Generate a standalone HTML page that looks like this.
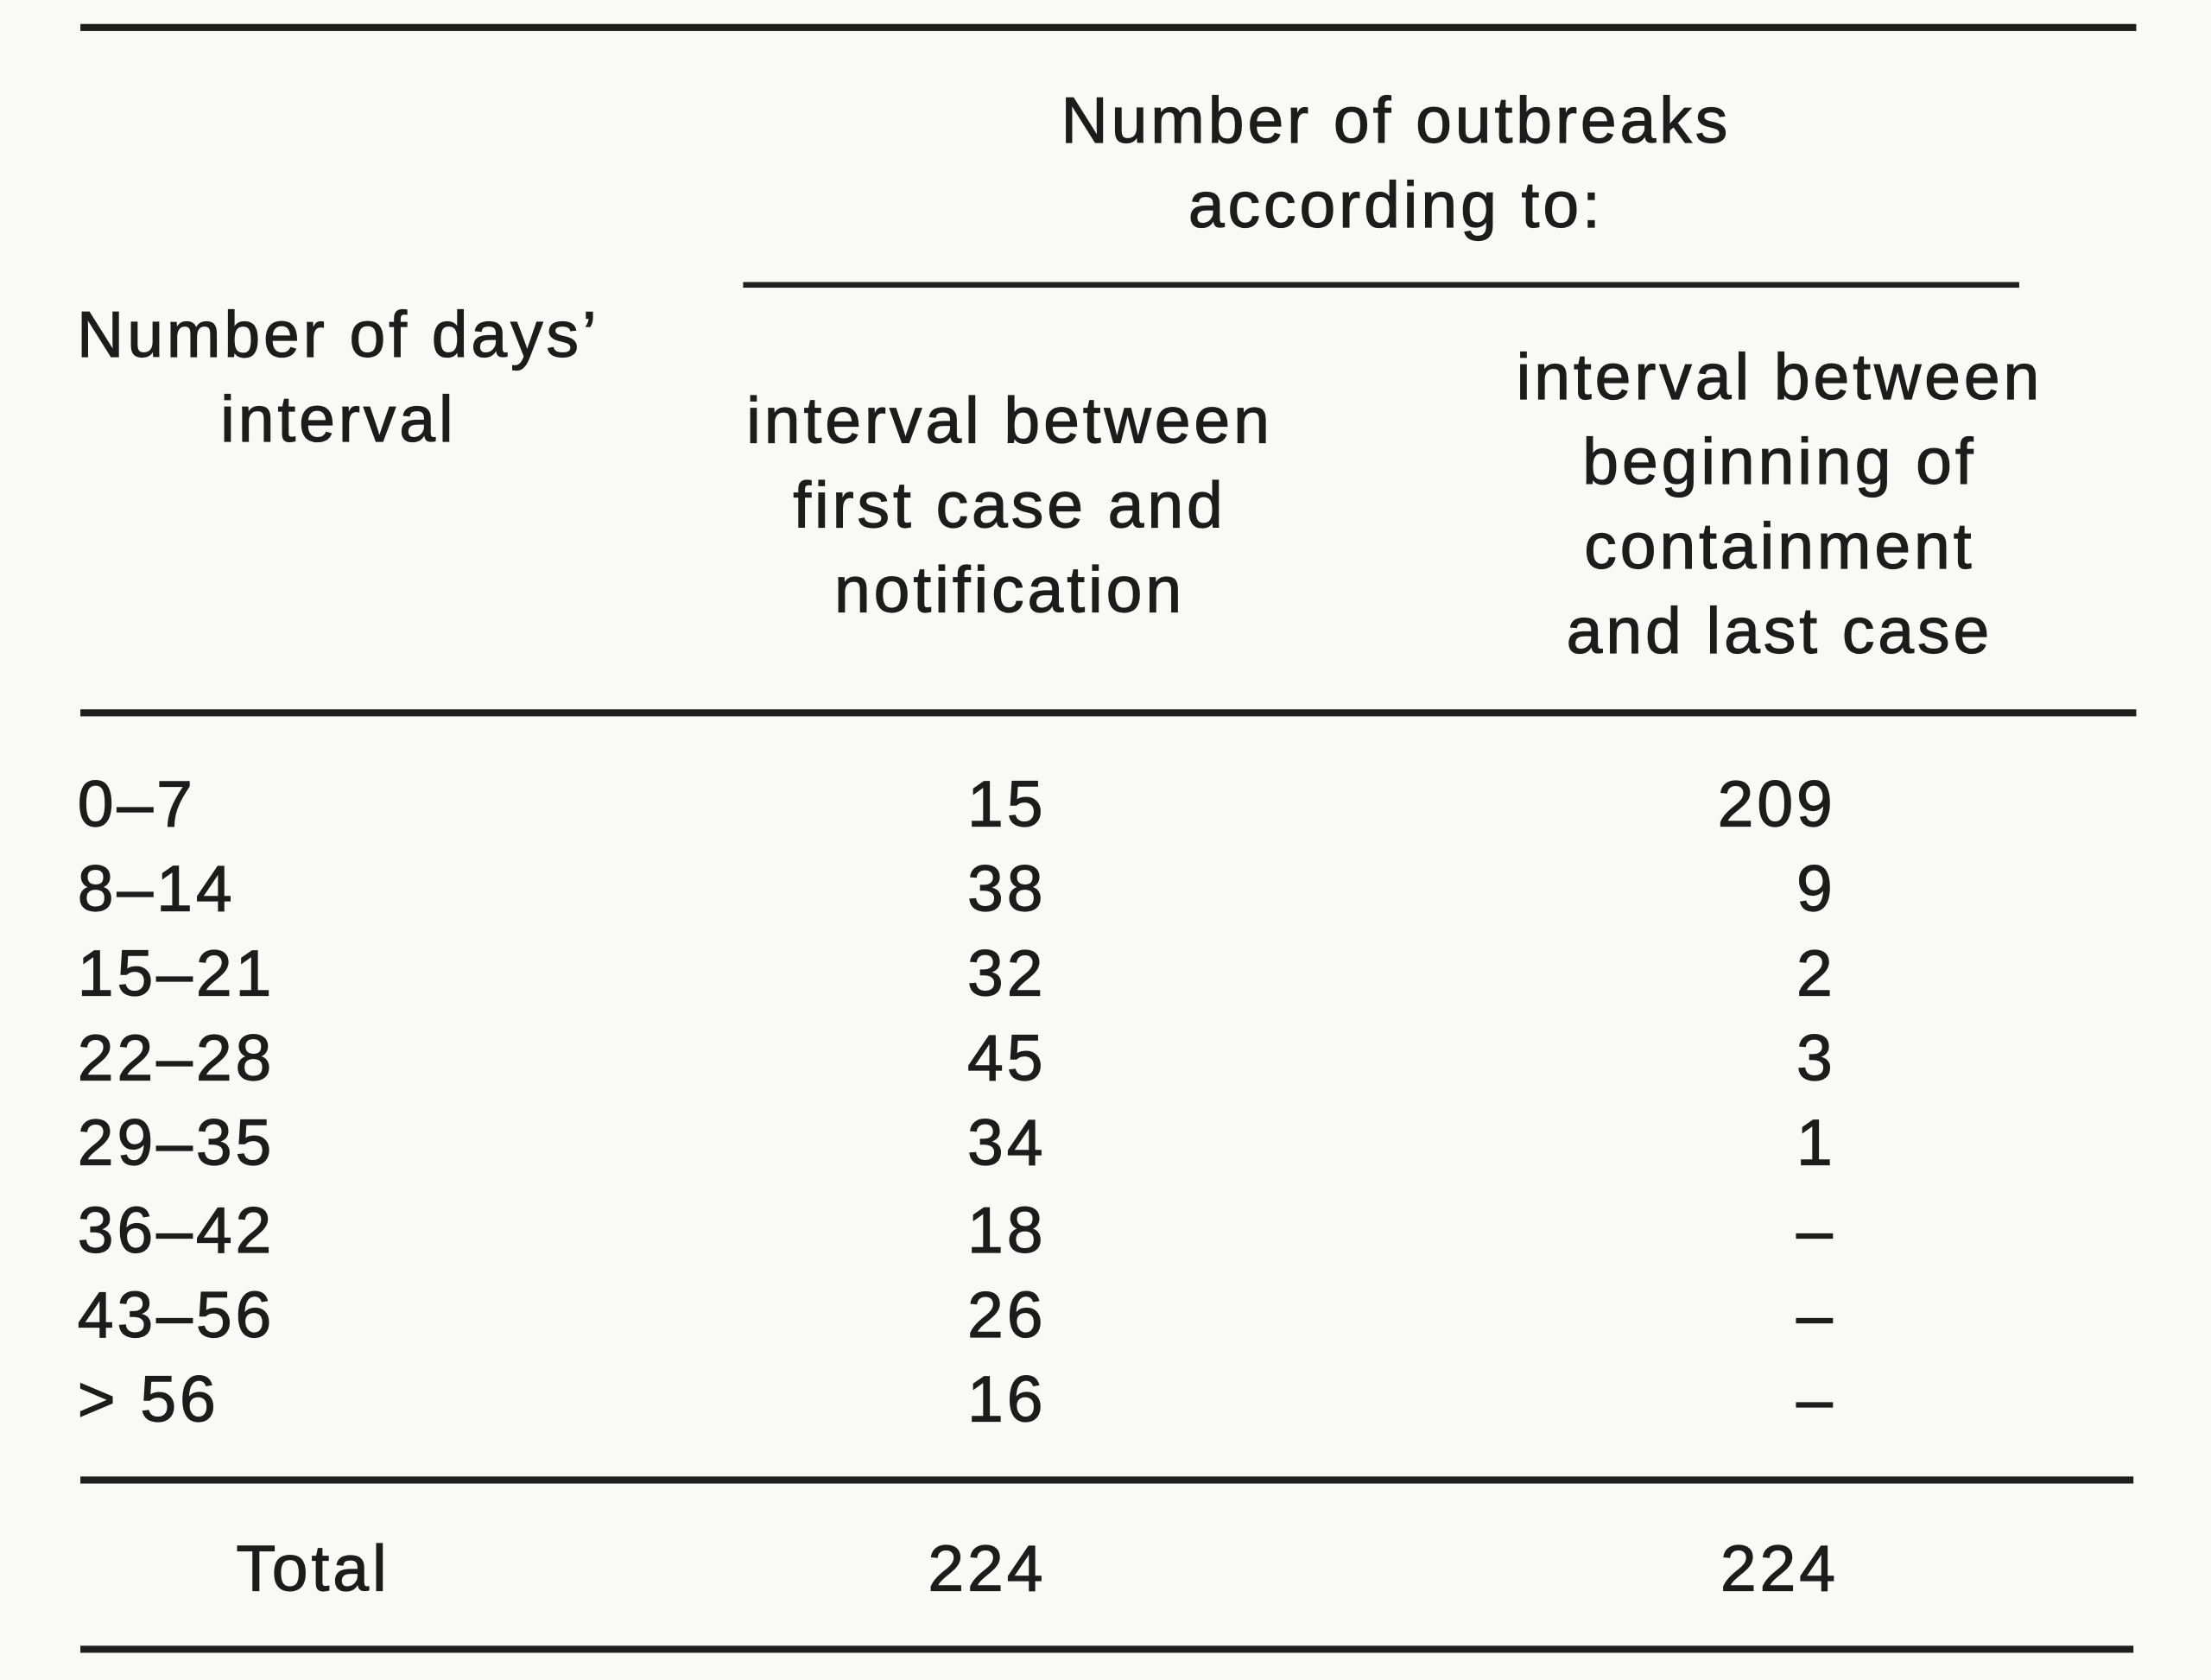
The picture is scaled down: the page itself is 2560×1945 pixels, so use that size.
<!DOCTYPE html>
<html><head><meta charset="utf-8"><style>
html,body{margin:0;padding:0;background:#f9f9f7;}
body{width:2560px;height:1945px;overflow:hidden;position:relative;}
#c{position:absolute;left:0;top:0;width:1568px;height:1191px;transform:scale(1.63265);transform-origin:0 0;font-family:"Liberation Sans",sans-serif;color:#1c1c1c;font-size:46px;letter-spacing:2.4px;-webkit-text-stroke:0.7px #1c1c1c;}
.r{position:absolute;height:5px;background:#1e1e1e;}
.t{position:absolute;height:60px;line-height:60px;white-space:nowrap;}
.cc{transform:translateX(-50%);}
.rr{transform:translateX(-100%);}
</style></head><body><div id="c">
<div class="r" style="left:57px;width:1458px;top:17px"></div>
<div class="r" style="left:527px;width:905px;top:200px;height:4px"></div>
<div class="r" style="left:57px;width:1458px;top:503px"></div>
<div class="r" style="left:57px;width:1456px;top:1047px"></div>
<div class="r" style="left:57px;width:1456px;top:1167px"></div>

<div class="t cc" style="left:990px;top:55px">Number of outbreaks</div>
<div class="t cc" style="left:990px;top:115px">according to:</div>
<div class="t cc" style="left:240px;top:207px">Number of days’</div>
<div class="t cc" style="left:240px;top:267px">interval</div>
<div class="t cc" style="left:716px;top:268px">interval between</div>
<div class="t cc" style="left:716px;top:328px">first case and</div>
<div class="t cc" style="left:716px;top:388px">notification</div>
<div class="t cc" style="left:1262px;top:237px">interval between</div>
<div class="t cc" style="left:1262px;top:297px">beginning of</div>
<div class="t cc" style="left:1262px;top:357px">containment</div>
<div class="t cc" style="left:1262px;top:417px">and last case</div>

<div class="t" style="left:55px;top:540px">0–7</div>
<div class="t" style="left:55px;top:600px">8–14</div>
<div class="t" style="left:55px;top:660px">15–21</div>
<div class="t" style="left:55px;top:720px">22–28</div>
<div class="t" style="left:55px;top:780px">29–35</div>
<div class="t" style="left:55px;top:842px">36–42</div>
<div class="t" style="left:55px;top:902px">43–56</div>
<div class="t" style="left:55px;top:962px">&gt; 56</div>

<div class="t rr" style="left:742px;top:540px">15</div>
<div class="t rr" style="left:742px;top:600px">38</div>
<div class="t rr" style="left:742px;top:660px">32</div>
<div class="t rr" style="left:742px;top:720px">45</div>
<div class="t rr" style="left:742px;top:780px">34</div>
<div class="t rr" style="left:742px;top:842px">18</div>
<div class="t rr" style="left:742px;top:902px">26</div>
<div class="t rr" style="left:742px;top:962px">16</div>

<div class="t rr" style="left:1302px;top:540px">209</div>
<div class="t rr" style="left:1302px;top:600px">9</div>
<div class="t rr" style="left:1302px;top:660px">2</div>
<div class="t rr" style="left:1302px;top:720px">3</div>
<div class="t rr" style="left:1302px;top:780px">1</div>
<div class="t rr" style="left:1302px;top:842px">–</div>
<div class="t rr" style="left:1302px;top:902px">–</div>
<div class="t rr" style="left:1302px;top:962px">–</div>

<div class="t cc" style="left:222px;top:1082px">Total</div>
<div class="t cc" style="left:700px;top:1082px">224</div>
<div class="t cc" style="left:1262px;top:1082px">224</div>
</div></body></html>
